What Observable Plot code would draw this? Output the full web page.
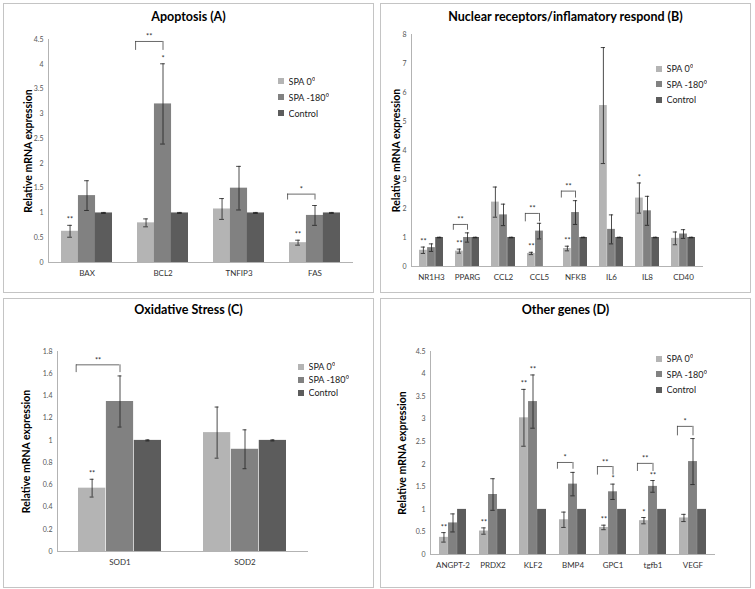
<!DOCTYPE html>
<html>
<head>
<meta charset="utf-8">
<script src="https://cdn.jsdelivr.net/npm/d3@7"></script>
<script src="https://cdn.jsdelivr.net/npm/@observablehq/plot@0.6"></script>
<style>
  body { margin: 0; width: 755px; height: 589px; background: #fff; position: relative; overflow: hidden; font-family: Lato, sans-serif; }
  .panel { position: absolute; width: 371px; height: 290px; box-sizing: border-box; border: 1px solid #c4c4c4; background: #fff; }
  .panel > svg { position: absolute; left: 0; top: 0; }
  .title { position: absolute; left: 0; right: 0; text-align: center; font-weight: bold; font-size: 12.5px; line-height: 16px; color: #000; }
  .legend { position: absolute; }
  .legend div[class$="-swatch"] { padding-bottom: 0 !important; }
  g[aria-label="y-axis label"], g[aria-label="y-axis label"] text { font-size: 10.5px !important; font-weight: bold !important; fill: #000 !important; }
</style>
</head>
<body>
<div id="A" class="panel" style="left:3px;top:3px"></div>
<div id="B" class="panel" style="left:380px;top:3px"></div>
<div id="C" class="panel" style="left:3px;top:298px"></div>
<div id="D" class="panel" style="left:380px;top:298px"></div>
<script>
const series = ["SPA 0°", "SPA -180°", "Control"];
const colors = ["#b4b4b4", "#818181", "#5c5c5c"];

// (A) Apoptosis
const genesA = ["BAX", "BCL2", "TNFIP3", "FAS"];
const spa0A = [0.63, 0.80, 1.08, 0.40];
const spa0ErrA = [0.12, 0.08, 0.21, 0.05];
const spa180A = [1.35, 3.20, 1.50, 0.95];
const spa180ErrA = [0.30, 0.81, 0.44, 0.20];
const controlA = [1, 1, 1, 1];
const controlErrA = [0.01, 0.01, 0.01, 0.01];
const starsA = [["BAX", 0, "**"], ["BCL2", 1, "*"], ["FAS", 0, "**"]];
const bracketsA = [["BCL2", 4.46, 4.28, "**"], ["FAS", 1.38, 1.26, "*"]];

// (B) Nuclear receptors / inflammatory
const genesB = ["NR1H3", "PPARG", "CCL2", "CCL5", "NFKB", "IL6", "IL8", "CD40"];
const spa0B = [0.56, 0.53, 2.22, 0.45, 0.62, 5.55, 2.36, 0.97];
const spa0ErrB = [0.11, 0.07, 0.52, 0.04, 0.08, 2.00, 0.52, 0.22];
const spa180B = [0.65, 1.00, 1.78, 1.22, 1.86, 1.28, 1.92, 1.12];
const spa180ErrB = [0.13, 0.16, 0.37, 0.27, 0.41, 0.50, 0.50, 0.15];
const controlB = [1, 1, 1, null, 1, 1, 1, 1];
const controlErrB = [0.01, 0.01, 0.01, null, 0.01, 0.01, 0.01, 0.01];
const starsB = [["NR1H3", 0, "**"], ["PPARG", 0, "**"], ["CCL5", 0, "**"], ["NFKB", 0, "**"], ["IL8", 0, "*"]];
const bracketsB = [["PPARG", 1.45, 1.25, "**"], ["CCL5", 1.83, 1.54, "**"], ["NFKB", 2.60, 2.36, "**"]];

// (C) Oxidative stress
const genesC = ["SOD1", "SOD2"];
const spa0C = [0.57, 1.07];
const spa0ErrC = [0.08, 0.23];
const spa180C = [1.35, 0.92];
const spa180ErrC = [0.23, 0.175];
const controlC = [1, 1];
const controlErrC = [0.005, 0.005];
const starsC = [["SOD1", 0, "**"]];
const bracketsC = [["SOD1", 1.68, 1.61, "**"]];

// (D) Other genes
const genesD = ["ANGPT-2", "PRDX2", "KLF2", "BMP4", "GPC1", "tgfb1", "VEGF"];
const spa0D = [0.38, 0.52, 3.03, 0.77, 0.60, 0.75, 0.81];
const spa0ErrD = [0.105, 0.07, 0.63, 0.17, 0.05, 0.07, 0.08];
const spa180D = [0.70, 1.33, 3.39, 1.56, 1.39, 1.51, 2.06];
const spa180ErrD = [0.20, 0.35, 0.59, 0.26, 0.17, 0.13, 0.51];
const controlD = [1, 1, 1, 1, 1, 1, 1];
const controlErrD = [0, 0, 0, 0, 0, 0, 0];
const starsD = [["ANGPT-2", 0, "**"], ["PRDX2", 0, "**"], ["KLF2", 0, "**"], ["KLF2", 1, "**"],
                ["GPC1", 0, "**"], ["GPC1", 1, "*"], ["tgfb1", 0, "*"], ["tgfb1", 1, "**"]];
const bracketsD = [["BMP4", 2.04, 1.89, "*"], ["GPC1", 1.95, 1.76, "**"], ["tgfb1", 2.02, 1.84, "**"], ["VEGF", 2.84, 2.63, "*"]];

const panels = [
  {id: "A", title: "Apoptosis (A)", genes: genesA, values: [spa0A, spa180A, controlA], errors: [spa0ErrA, spa180ErrA, controlErrA],
   stars: starsA, brackets: bracketsA, ymax: 4.5, ticks: 9, margin: [35, 20, 30, 44], labelOffset: 24, titleTop: 5, legend: [274, 69, 16]},
  {id: "B", title: "Nuclear receptors/inflamatory respond (B)", genes: genesB, values: [spa0B, spa180B, controlB], errors: [spa0ErrB, spa180ErrB, controlErrB],
   stars: starsB, brackets: bracketsB, ymax: 8, ticks: 8, margin: [30, 47, 26, 30], labelOffset: 19, titleTop: 5, legend: [275, 57, 15.5]},
  {id: "C", title: "Oxidative Stress (C)", genes: genesC, values: [spa0C, spa180C, controlC], errors: [spa0ErrC, spa180ErrC, controlErrC],
   stars: starsC, brackets: bracketsC, ymax: 1.8, ticks: 9, margin: [52, 65, 36, 53], labelOffset: 35, titleTop: 3, legend: [294, 61, 13]},
  {id: "D", title: "Other genes (D)", genes: genesD, values: [spa0D, spa180D, controlD], errors: [spa0ErrD, spa180ErrD, controlErrD],
   stars: starsD, brackets: bracketsD, ymax: 4.5, ticks: 9, margin: [52, 35, 33, 49], labelOffset: 32, titleTop: 3, legend: [275, 52, 15.5]}
];

const W = 369, H = 288;
const ink = "#1e1e1e", axisColor = "#b3b3b3";

panels.forEach(p => {
  const [mt, mr, mb, ml] = p.margin;
  const step = (W - ml - mr) / p.genes.length;
  const bw = step * (2 / 3) / 3;   // one bar inside a group
  const cap = 2.3;

  const rows = p.genes.flatMap((g, i) => series.map((s, k) => ({
    gene: g, k, series: s, value: p.values[k][i], err: p.errors[k][i]
  }))).filter(d => d.value != null);
  const top = (g, k) => rows.find(d => d.gene === g && d.k === k);

  const marks = [
    Plot.ruleY([0], {stroke: axisColor}),
    Plot.frame({anchor: "left", stroke: axisColor})
  ];

  series.forEach((s, k) => {
    const data = rows.filter(d => d.k === k);
    const withErr = data.filter(d => d.err > 0);
    const off = (k - 1) * bw;
    marks.push(
      Plot.barY(data, {x: "gene", y: "value", fill: "series", insetLeft: k * bw, insetRight: (2 - k) * bw}),
      Plot.ruleX(withErr, {x: "gene", y1: d => d.value - d.err, y2: d => d.value + d.err, dx: off, stroke: ink, strokeWidth: 0.8}),
      Plot.tickY(withErr, {x: "gene", y: d => d.value + d.err, insetLeft: k * bw + bw / 2 - cap, insetRight: (2 - k) * bw + bw / 2 - cap, stroke: ink, strokeWidth: 0.8}),
      Plot.tickY(withErr, {x: "gene", y: d => d.value - d.err, insetLeft: k * bw + bw / 2 - cap, insetRight: (2 - k) * bw + bw / 2 - cap, stroke: ink, strokeWidth: 0.8}),
      Plot.text(p.stars.filter(st => st[1] === k), {
        x: d => d[0], y: d => { const r = top(d[0], k); return r.value + r.err; },
        text: d => d[2], dx: off, dy: -3, fontSize: 7.5, fill: "#333", lineAnchor: "bottom"
      })
    );
  });

  // significance brackets between SPA 0° and SPA -180°
  marks.push(
    Plot.tickY(p.brackets, {x: d => d[0], y: d => d[1], insetLeft: -2, insetRight: 1.5 * bw, stroke: "#444", strokeWidth: 0.8}),
    Plot.ruleX(p.brackets, {x: d => d[0], y1: d => d[2], y2: d => d[1], dx: -1.5 * bw - 2, stroke: "#444", strokeWidth: 0.8}),
    Plot.ruleX(p.brackets, {x: d => d[0], y1: d => d[2], y2: d => d[1], stroke: "#444", strokeWidth: 0.8}),
    Plot.text(p.brackets, {x: d => d[0], y: d => d[1], text: d => d[3], dx: -0.75 * bw - 1, dy: -2, fontSize: 7.5, fill: "#333", lineAnchor: "bottom"}),
    Plot.axisX({tickSize: 0, tickPadding: 8, fontSize: 8, fill: "#333", label: null}),
    Plot.axisY({ticks: p.ticks, tickFormat: "~g", tickSize: 0, tickPadding: 5, fontSize: 7, fill: "#555",
      label: "Relative mRNA expression", labelAnchor: "center", labelOffset: p.labelOffset, labelArrow: "none"})
  );

  const chart = Plot.plot({
    width: W, height: H,
    marginTop: mt, marginRight: mr, marginBottom: mb, marginLeft: ml,
    style: {fontFamily: "Lato, sans-serif", background: "transparent", overflow: "visible"},
    x: {domain: p.genes, paddingInner: 1 / 3, paddingOuter: 1 / 6},
    y: {domain: [0, p.ymax]},
    color: {domain: series, range: colors},
    marks
  });

  const el = d3.select("#" + p.id);
  el.append("div").attr("class", "title").style("top", p.titleTop + "px").text(p.title);
  el.append(() => chart);

  const [lx, ly, lh] = p.legend;
  const legend = chart.legend("color", {columns: 1, swatchSize: 6,
    style: {fontFamily: "Lato, sans-serif", fontSize: "9px", color: "#222", margin: 0}});
  const box = el.append("div").attr("class", "legend").style("left", lx + "px").style("top", ly + "px");
  box.append(() => legend);
  box.selectAll('div[class$="-swatch"]').style("height", lh + "px");
});
</script>
</body>
</html>
